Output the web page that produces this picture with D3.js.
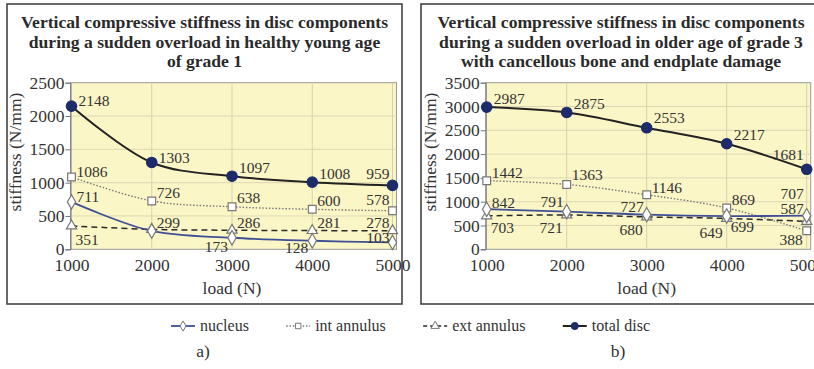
<!DOCTYPE html>
<html><head><meta charset="utf-8">
<script src="https://cdn.jsdelivr.net/npm/d3@7"></script>
<style>
body{margin:0;background:#fff;}
svg text{font-family:"Liberation Serif","Times New Roman",serif;}
</style>
</head><body>
<svg id="c" width="814" height="369"></svg>
<script>
// ---------- data ----------
const loads = [1000, 2000, 3000, 4000, 5000];
const seriesNames = ["nucleus", "int annulus", "ext annulus", "total disc"];

// panel a) healthy young age, grade 1
const aNucleus = [711, 275, 173, 128, 103];
const aIntAnnulus = [1086, 726, 638, 600, 578];
const aExtAnnulus = [351, 299, 286, 281, 278];
const aTotalDisc = [2148, 1303, 1097, 1008, 959];

// panel b) older age, grade 3, cancellous bone & endplate damage
const bNucleus = [842, 791, 727, 699, 707];
const bIntAnnulus = [1442, 1363, 1146, 869, 388];
const bExtAnnulus = [703, 721, 680, 649, 587];
const bTotalDisc = [2987, 2875, 2553, 2217, 1681];

const aYTicks = [0, 500, 1000, 1500, 2000, 2500];
const bYTicks = [0, 500, 1000, 1500, 2000, 2500, 3000, 3500];

const aTitle = ["Vertical compressive stiffness in disc components",
                "during a sudden overload in healthy young age",
                "of grade 1"];
const bTitle = ["Vertical compressive stiffness in disc components",
                "during a sudden overload in older age of grade 3",
                "with cancellous bone and endplate damage"];

// value-label placement: side of the point ("" = no label) and vertical shift
const aPlace = {
  nucleus: ["ne:-5", "", "sw:9", "sw:7", "nw:-5"],
  int: ["ne:-5", "ne:-8", "ne:-9", "ne:-9", "nw:-11"],
  ext: ["se:14", "ne:-7", "ne:-8", "ne:-8", "nw:-8"],
  total: ["ne:-6", "ne:-5", "ne:-9", "ne:-9", "nw:-12"]
};
const bPlace = {
  nucleus: ["ne:-7", "nw:-10", "nw:-8", "se:11", "nw:-22"],
  int: ["ne:-8", "ne:-10", "ne:-7", "ne:-8", "sw:9"],
  ext: ["se:12", "sw:13", "sw:13", "sw:14", "nw:-13"],
  total: ["ne:-9", "ne:-9", "ne:-10", "ne:-9", "nw:-15"]
};

// ---------- drawing ----------
const svg = d3.select("#c");
const navy = "#1d2b6b";
const bg = "#fbf6c6";
const txt = "#333";

const sideOff = {
  ne: {a: "start", dx: 5},
  nw: {a: "end", dx: -3},
  se: {a: "start", dx: 4},
  sw: {a: "end", dx: -4}
};

const symbols = {
  nucleus: d3.symbolDiamond,
  int: d3.symbolSquare,
  ext: d3.symbolTriangle,
  total: d3.symbolCircle
};
const symSize = {nucleus: 60, int: 60, ext: 45, total: 85};
const lineStyle = {
  nucleus: {stroke: "#3f4f95", width: 1.8, dash: null},
  int: {stroke: "#777", width: 1.4, dash: "1.5,1.8"},
  ext: {stroke: "#2a2a2a", width: 1.5, dash: "6,4"},
  total: {stroke: "#222", width: 2, dash: null}
};
const markStyle = {
  nucleus: {fill: "#fff", stroke: "#777"},
  int: {fill: "#fff", stroke: "#777"},
  ext: {fill: "#fff", stroke: "#777"},
  total: {fill: navy, stroke: navy}
};

function panel(cfg) {
  const g = svg.append("g");
  g.append("rect").attr("x", cfg.box[0]).attr("y", cfg.box[1])
    .attr("width", cfg.box[2]).attr("height", cfg.box[3])
    .attr("fill", "#fff").attr("stroke", "#444").attr("stroke-width", 1.6);
  cfg.title.forEach((t, i) => {
    g.append("text").attr("x", cfg.titleX).attr("y", 28 + i * 19.5)
      .attr("text-anchor", "middle").attr("font-weight", "bold")
      .attr("font-size", 17.6).attr("fill", "#2a2a2a").text(t);
  });
  const x = d3.scaleLinear().domain([1000, 5000]).range(cfg.xr);
  const y = d3.scaleLinear().domain([0, cfg.yMax]).range([249.3, 82.7]);
  g.append("rect").attr("x", cfg.xr[0] - 1).attr("y", y(cfg.yMax))
    .attr("width", cfg.xr[1] - cfg.xr[0] + 5).attr("height", y(0) - y(cfg.yMax))
    .attr("fill", bg).attr("stroke", "#999").attr("stroke-width", 1);
  g.append("g").selectAll("line").data(cfg.yTicks.slice(1, -1)).join("line")
    .attr("x1", cfg.xr[0]).attr("x2", cfg.xr[1] + 4)
    .attr("y1", d => y(d)).attr("y2", d => y(d))
    .attr("stroke", "#ddd8b4").attr("stroke-width", 1);
  g.append("g").selectAll("line").data(loads.slice(1)).join("line")
    .attr("x1", d => x(d)).attr("x2", d => x(d))
    .attr("y1", y(0)).attr("y2", y(cfg.yMax))
    .attr("stroke", "#d6d2b0").attr("stroke-width", 1);
  const ya = g.append("g").attr("transform", `translate(${cfg.xr[0] - 1},0)`)
    .call(d3.axisLeft(y).tickValues(cfg.yTicks).tickSize(5).tickPadding(1).tickFormat(d3.format("d")));
  ya.attr("font-family", null);
  ya.select(".domain").attr("stroke", "#777");
  ya.selectAll(".tick line").attr("stroke", "#777");
  ya.selectAll("text").attr("font-size", 17.5).attr("fill", txt);
  const xa = g.append("g").attr("transform", `translate(0,${y(0)})`)
    .call(d3.axisBottom(x).tickValues(loads).tickSize(0).tickPadding(9).tickFormat(d3.format("d")));
  xa.attr("font-family", null);
  xa.select(".domain").remove();
  xa.selectAll("text").attr("font-size", 17.5).attr("fill", txt);
  g.append("text").attr("x", (cfg.xr[0] + cfg.xr[1]) / 2).attr("y", 294)
    .attr("text-anchor", "middle").attr("font-size", 17.5).attr("fill", txt).text("load (N)");
  g.append("text").attr("transform", `translate(${cfg.yLabX},${152}) rotate(-90)`)
    .attr("text-anchor", "middle").attr("font-size", 17.5).attr("fill", txt)
    .text("stiffness (N/mm)");

  const keys = ["ext", "int", "nucleus", "total"];
  const line = d3.line().x((d, i) => x(loads[i])).y(d => y(d))
    .curve(d3.curveCatmullRom.alpha(0.5));
  keys.forEach(k => {
    const ls = lineStyle[k];
    g.append("path").attr("d", line(cfg.data[k])).attr("fill", "none")
      .attr("stroke", ls.stroke).attr("stroke-width", ls.width)
      .attr("stroke-dasharray", ls.dash);
  });
  keys.forEach(k => {
    const ms = markStyle[k];
    g.append("g").selectAll("path").data(cfg.data[k]).join("path")
      .attr("d", d3.symbol().type(symbols[k]).size(symSize[k]))
      .attr("transform", (d, i) => `translate(${x(loads[i])},${y(d)})`)
      .attr("fill", ms.fill).attr("stroke", ms.stroke).attr("stroke-width", 1.2);
  });
  keys.forEach(k => {
    cfg.data[k].forEach((v, i) => {
      const p = cfg.place[k][i];
      if (!p) return;
      const [side, shift] = p.split(":");
      const o = sideOff[side];
      const extra = (k === "total" && side === "ne") ? 2 : 0;
      g.append("text").attr("x", x(loads[i]) + o.dx + extra).attr("y", y(v) + (+shift))
        .attr("dy", "0.35em").attr("text-anchor", o.a)
        .attr("font-size", 15.5).attr("fill", txt).text(v);
    });
  });
}

panel({
  box: [7, 4, 395, 300], titleX: 204.5, title: aTitle, xr: [71.5, 392.5],
  yMax: 2500, yTicks: aYTicks, yLabX: 21,
  data: {nucleus: aNucleus, int: aIntAnnulus, ext: aExtAnnulus, total: aTotalDisc},
  place: aPlace
});
panel({
  box: [421, 4, 420, 300], titleX: 621, title: bTitle, xr: [486.7, 806.7],
  yMax: 3500, yTicks: bYTicks, yLabX: 436,
  data: {nucleus: bNucleus, int: bIntAnnulus, ext: bExtAnnulus, total: bTotalDisc},
  place: bPlace
});

// ---------- legend ----------
const legKeys = ["nucleus", "int", "ext", "total"];
const leg = svg.append("g").attr("transform", "translate(0,326)");
const legStart = 171, legEnd = 650, symW = 24, symGap = 5;
const items = legKeys.map((k, i) => {
  const gi = leg.append("g");
  const ls = lineStyle[k], ms = markStyle[k];
  gi.append("line").attr("x1", 0).attr("x2", symW).attr("y1", 0).attr("y2", 0)
    .attr("stroke", ls.stroke).attr("stroke-width", ls.width)
    .attr("stroke-dasharray", k === "ext" ? "4,3" : ls.dash);
  gi.append("path").attr("d", d3.symbol().type(symbols[k]).size(k === "total" ? 40 : 30)())
    .attr("transform", `translate(${symW / 2},0)`)
    .attr("fill", ms.fill).attr("stroke", ms.stroke).attr("stroke-width", 1);
  const t = gi.append("text").attr("x", symW + symGap).attr("y", 0).attr("dy", "0.33em")
    .attr("font-size", 16).attr("fill", txt).text(seriesNames[i]);
  return {g: gi, w: symW + symGap + t.node().getComputedTextLength()};
});
const totalW = d3.sum(items, d => d.w);
const gap = (legEnd - legStart - totalW) / (items.length - 1);
let lx = legStart;
items.forEach(it => { it.g.attr("transform", `translate(${lx},0)`); lx += it.w + gap; });

svg.append("text").attr("x", 203).attr("y", 357).attr("text-anchor", "middle")
  .attr("font-size", 17.5).attr("fill", txt).text("a)");
svg.append("text").attr("x", 618).attr("y", 357).attr("text-anchor", "middle")
  .attr("font-size", 17.5).attr("fill", txt).text("b)");
</script>
</body></html>
